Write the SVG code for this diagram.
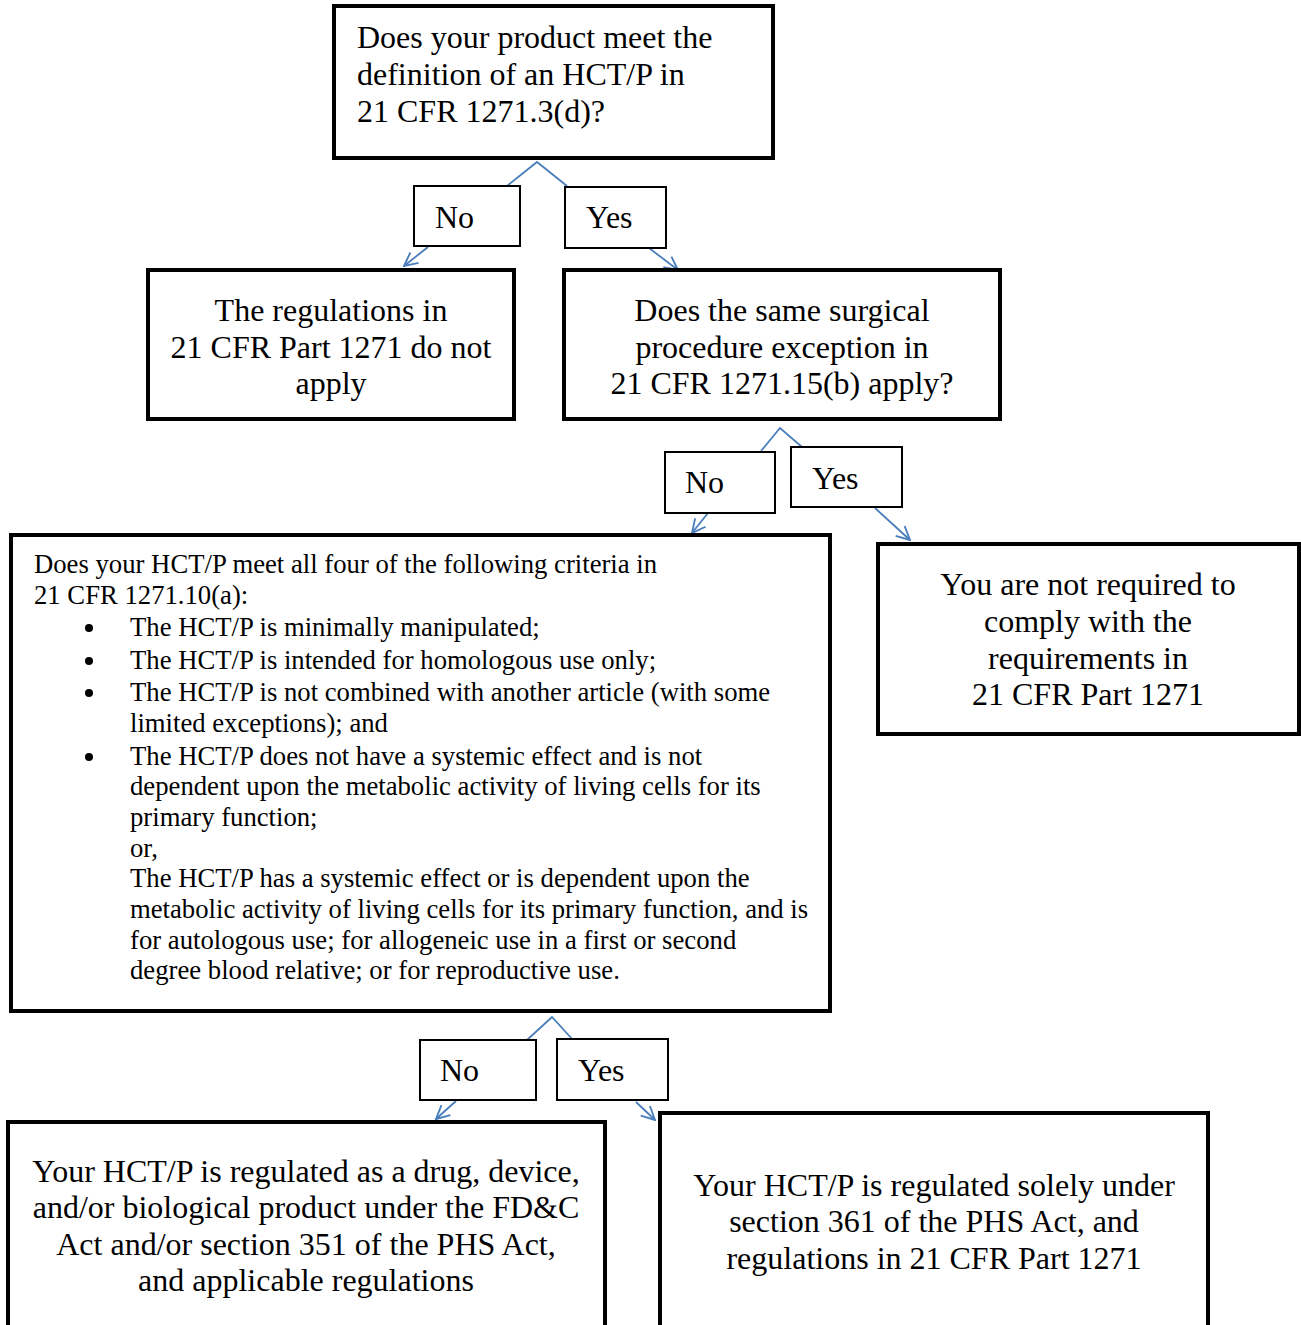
<svg xmlns="http://www.w3.org/2000/svg" width="1301" height="1325" viewBox="0 0 1301 1325">
<style>
.box{fill:#fff;stroke:#000;stroke-width:4}
.lbl{fill:#fff;stroke:#000;stroke-width:2}
.t{font-family:"Liberation Serif","Times New Roman",serif;font-size:32px;fill:#000}
.c{text-anchor:middle}
.s{font-family:"Liberation Serif","Times New Roman",serif;font-size:26.7px;fill:#000}
.ln{fill:none;stroke:#4a7ebb;stroke-width:1.8}
</style>
<defs>
<marker id="ah" viewBox="0 0 12 12" refX="11" refY="6" markerWidth="16" markerHeight="16" markerUnits="userSpaceOnUse" orient="auto">
<path d="M1,1 L11,6 L1,11" fill="none" stroke="#4a7ebb" stroke-width="1.4"/>
</marker>
</defs>
<rect width="1301" height="1325" fill="#fff"/>
<g id="connectors">
<polyline class="ln" points="507,186 537,162 567,186"/>
<line class="ln" x1="428" y1="247" x2="404" y2="266" marker-end="url(#ah)"/>
<line class="ln" x1="649" y1="248" x2="678" y2="270" marker-end="url(#ah)"/>
<polyline class="ln" points="761,451 780,428 802,447"/>
<line class="ln" x1="708" y1="513" x2="692" y2="533" marker-end="url(#ah)"/>
<line class="ln" x1="875" y1="508" x2="910" y2="540" marker-end="url(#ah)"/>
<polyline class="ln" points="527,1040 552,1017 573,1040"/>
<line class="ln" x1="456" y1="1101" x2="436" y2="1119" marker-end="url(#ah)"/>
<line class="ln" x1="636" y1="1102" x2="655" y2="1120" marker-end="url(#ah)"/>
</g>
<g id="q1">
<rect class="box" x="334" y="6" width="439" height="152"/>
<text class="t" x="357" y="48">Does your product meet the</text>
<text class="t" x="357" y="85">definition of an HCT/P in</text>
<text class="t" x="357" y="122">21 CFR 1271.3(d)?</text>
</g>
<g id="no1">
<rect class="lbl" x="414" y="186" width="106" height="60"/>
<text class="t" x="435" y="228">No</text>
</g>
<g id="yes1">
<rect class="lbl" x="565" y="187" width="101" height="61"/>
<text class="t" x="586" y="228">Yes</text>
</g>
<g id="notapply">
<rect class="box" x="148" y="270" width="366" height="149"/>
<text class="t c" x="331" y="321">The regulations in</text>
<text class="t c" x="331" y="358">21 CFR Part 1271 do not</text>
<text class="t c" x="331" y="394">apply</text>
</g>
<g id="q2">
<rect class="box" x="564" y="270" width="436" height="149"/>
<text class="t c" x="782" y="321">Does the same surgical</text>
<text class="t c" x="782" y="358">procedure exception in</text>
<text class="t c" x="782" y="394">21 CFR 1271.15(b) apply?</text>
</g>
<g id="no2">
<rect class="lbl" x="665" y="452" width="110" height="61"/>
<text class="t" x="685" y="493">No</text>
</g>
<g id="yes2">
<rect class="lbl" x="791" y="447" width="111" height="60"/>
<text class="t" x="812" y="489">Yes</text>
</g>
<g id="q3">
<rect class="box" x="11" y="535" width="819" height="476"/>
<text class="s" x="34" y="573">Does your HCT/P meet all four of the following criteria in</text>
<text class="s" x="34" y="604">21 CFR 1271.10(a):</text>
<circle cx="89" cy="628" r="4"/>
<text class="s" x="130" y="636">The HCT/P is minimally manipulated;</text>
<circle cx="89" cy="661" r="4"/>
<text class="s" x="130" y="669">The HCT/P is intended for homologous use only;</text>
<circle cx="89" cy="693" r="4"/>
<text class="s" x="130" y="701">The HCT/P is not combined with another article (with some</text>
<text class="s" x="130" y="732">limited exceptions); and</text>
<circle cx="89" cy="757" r="4"/>
<text class="s" x="130" y="765">The HCT/P does not have a systemic effect and is not</text>
<text class="s" x="130" y="795">dependent upon the metabolic activity of living cells for its</text>
<text class="s" x="130" y="826">primary function;</text>
<text class="s" x="130" y="857">or,</text>
<text class="s" x="130" y="887">The HCT/P has a systemic effect or is dependent upon the</text>
<text class="s" x="130" y="918">metabolic activity of living cells for its primary function, and is</text>
<text class="s" x="130" y="949">for autologous use; for allogeneic use in a first or second</text>
<text class="s" x="130" y="979">degree blood relative; or for reproductive use.</text>
</g>
<g id="notrequired">
<rect class="box" x="878" y="544" width="421" height="190"/>
<text class="t c" x="1088" y="595">You are not required to</text>
<text class="t c" x="1088" y="632">comply with the</text>
<text class="t c" x="1088" y="669">requirements in</text>
<text class="t c" x="1088" y="705">21 CFR Part 1271</text>
</g>
<g id="no3">
<rect class="lbl" x="420" y="1040" width="116" height="60"/>
<text class="t" x="440" y="1081">No</text>
</g>
<g id="yes3">
<rect class="lbl" x="557" y="1039" width="111" height="61"/>
<text class="t" x="578" y="1081">Yes</text>
</g>
<g id="drug">
<rect class="box" x="8" y="1122" width="597" height="220"/>
<text class="t c" x="306" y="1182">Your HCT/P is regulated as a drug, device,</text>
<text class="t c" x="306" y="1218">and/or biological product under the FD&amp;C</text>
<text class="t c" x="306" y="1255">Act and/or section 351 of the PHS Act,</text>
<text class="t c" x="306" y="1291">and applicable regulations</text>
</g>
<g id="s361">
<rect class="box" x="660" y="1113" width="548" height="230"/>
<text class="t c" x="934" y="1196">Your HCT/P is regulated solely under</text>
<text class="t c" x="934" y="1232">section 361 of the PHS Act, and</text>
<text class="t c" x="934" y="1269">regulations in 21 CFR Part 1271</text>
</g>
</svg>
